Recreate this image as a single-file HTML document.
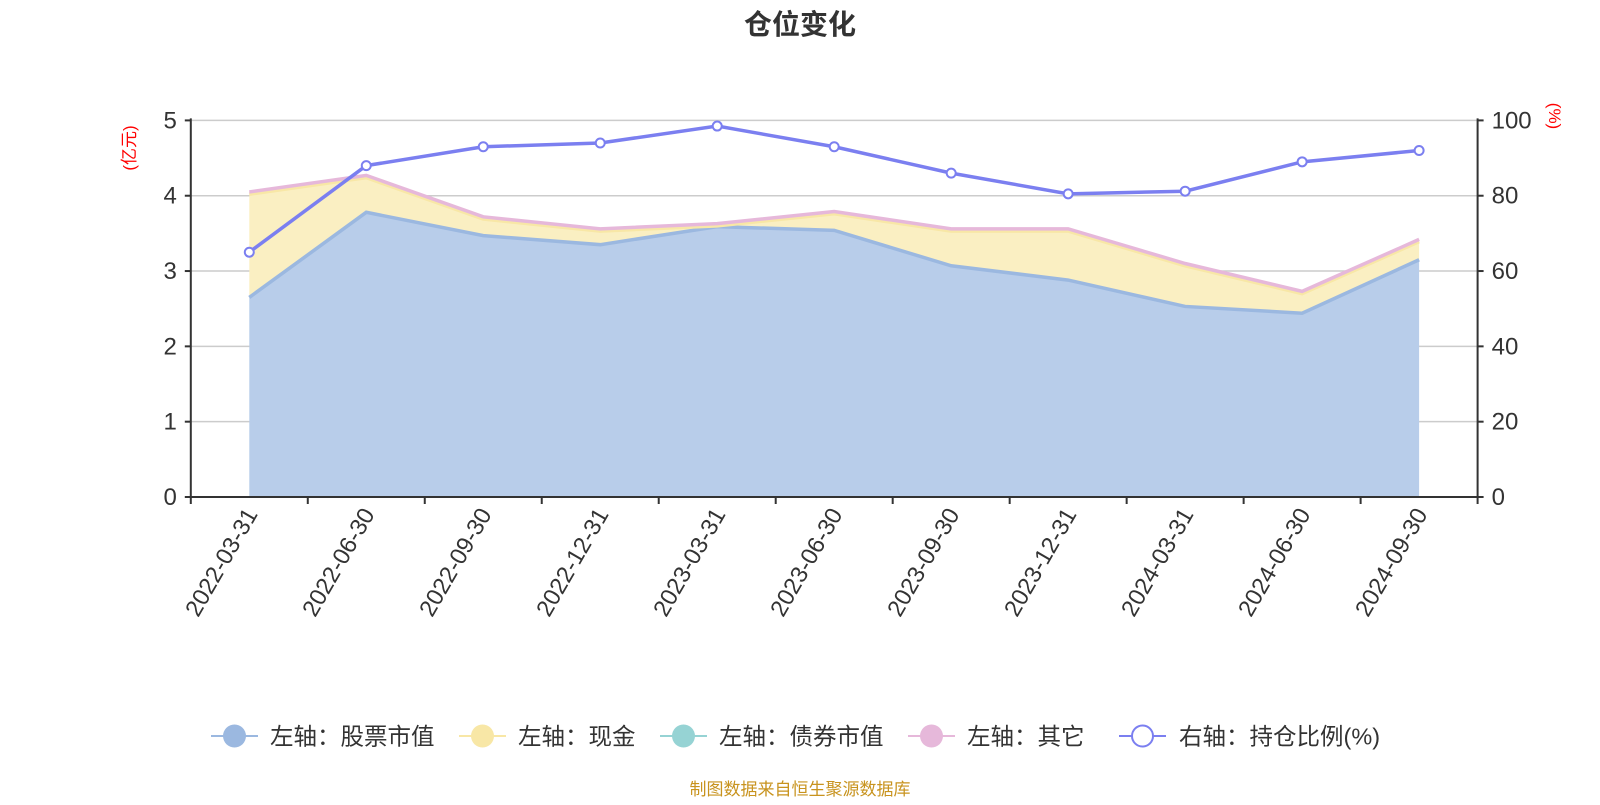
<!DOCTYPE html>
<html><head><meta charset="utf-8"><style>
body{margin:0;background:#fff;}
svg text{font-family:"Liberation Sans","Noto Sans CJK SC",sans-serif;}
</style></head><body>
<svg id="chart" width="1600" height="800" xmlns="http://www.w3.org/2000/svg">
<text x="800" y="34" text-anchor="middle" font-size="28" font-weight="bold" fill="#333">仓位变化</text>
<g id="grid"></g>
<g id="areas"></g>
<g id="axes"></g>
<g id="ratio"></g>
<text transform="translate(135,148) rotate(-90)" text-anchor="middle" font-size="17" fill="#ff0000">(亿元)</text>
<text transform="translate(1549,116) rotate(90)" text-anchor="middle" font-size="17" fill="#ff0000">(%)</text>
<g id="legend"></g>
<text x="800" y="795" text-anchor="middle" font-size="17" fill="#c8931e">制图数据来自恒生聚源数据库</text>
</svg>
<script>
const categories=["2022-03-31","2022-06-30","2022-09-30","2022-12-31","2023-03-31","2023-06-30","2023-09-30","2023-12-31","2024-03-31","2024-06-30","2024-09-30"];
const stockValues=[2.65,3.78,3.47,3.35,3.59,3.54,3.07,2.88,2.53,2.44,3.15];
const cashValues=[1.37,0.46,0.22,0.18,0.01,0.22,0.46,0.65,0.54,0.26,0.24];
const bondValues=[0,0,0,0,0,0,0,0,0,0,0];
const otherValues=[0.03,0.03,0.03,0.03,0.03,0.03,0.03,0.03,0.03,0.03,0.03];
const ratioValues=[65,88,93,94,98.5,93,86,80.5,81.2,89,92];
const leftTicks=[0,1,2,3,4,5];
const rightTicks=[0,20,40,60,80,100];
const NS="http://www.w3.org/2000/svg";
const X0=190.8,X1=1477.6,Y0=497,Y1=120.4;
const step=(X1-X0)/categories.length;
const xPos=i=>X0+step*(i+0.5);
const yL=v=>Y0-(v/5)*(Y0-Y1);
const yR=v=>Y0-(v/100)*(Y0-Y1);
function mk(tag,attrs,parent){const e=document.createElementNS(NS,tag);for(const k in attrs)e.setAttribute(k,attrs[k]);parent.appendChild(e);return e;}
const grid=document.getElementById('grid'),axes=document.getElementById('axes'),areas=document.getElementById('areas'),ratio=document.getElementById('ratio'),legend=document.getElementById('legend');
leftTicks.forEach((t,i)=>{
  if(t>0){const g=mk('line',{x1:X0,x2:X1,y1:yL(t),y2:yL(t),stroke:'#ccc','stroke-width':1.5},grid);
  
  }
  const tk=mk('line',{x1:X0-6,x2:X0,y1:yL(t),y2:yL(t),stroke:'#333','stroke-width':2},axes);
  
  
  const tx=mk('text',{x:X0-14,y:yL(t)+8,'text-anchor':'end','font-size':24,fill:'#333'},axes);tx.textContent=t;
  
  
});
rightTicks.forEach(t=>{
  const tk=mk('line',{x1:X1,x2:X1+6,y1:yR(t),y2:yR(t),stroke:'#333','stroke-width':2},axes);
  
  
  const tx=mk('text',{x:X1+14,y:yR(t)+8,'font-size':24,fill:'#333'},axes);tx.textContent=t;
  
  
});
const n=categories.length;
const s1=stockValues, s2=s1.map((v,i)=>v+cashValues[i]), s3=s2.map((v,i)=>v+bondValues[i]), s4=s3.map((v,i)=>v+otherValues[i]);
function areaPath(top,bot){let d='';for(let i=0;i<n;i++)d+=(i?'L':'M')+xPos(i)+','+yL(top[i]);for(let i=n-1;i>=0;i--)d+='L'+xPos(i)+','+yL(bot?bot[i]:0);return d+'Z';}
function linePath(arr,f){let d='';arr.forEach((v,i)=>d+=(i?'L':'M')+xPos(i)+','+f(v));return d;}
const a1=mk('path',{d:areaPath(s1,null),fill:'#b8cdea'},areas);


const a2=mk('path',{d:areaPath(s2,s1),fill:'#faefc2'},areas);


const a4=mk('path',{d:areaPath(s4,s3),fill:'#f2dbe8'},areas);


const l1=mk('path',{d:linePath(s1,yL),fill:'none',stroke:'#9bb8e0','stroke-width':3.5},areas);


const l2=mk('path',{d:linePath(s2,yL),fill:'none',stroke:'#f8e7a6','stroke-width':3.5},areas);


const l4=mk('path',{d:linePath(s4,yL),fill:'none',stroke:'#e6b8da','stroke-width':3.5},areas);


const la=mk('line',{x1:X0,x2:X0,y1:Y1-2,y2:Y0+1,stroke:'#333','stroke-width':2},axes);


const ra=mk('line',{x1:X1,x2:X1,y1:Y1-2,y2:Y0+1,stroke:'#333','stroke-width':2},axes);


const xa=mk('line',{x1:X0,x2:X1,y1:Y0,y2:Y0,stroke:'#333','stroke-width':2},axes);


for(let i=0;i<=n;i++){const t=mk('line',{x1:X0+step*i,x2:X0+step*i,y1:Y0,y2:Y0+7,stroke:'#333','stroke-width':2},axes);

}
categories.forEach((c,i)=>{
  const tx=mk('text',{transform:`translate(${xPos(i)+9},${Y0+17}) rotate(-60)`,'text-anchor':'end','font-size':23.5,fill:'#333'},axes);tx.textContent=c;
  
  
});
const rl=mk('path',{d:linePath(ratioValues,yR),fill:'none',stroke:'#7b7ff0','stroke-width':3.5},ratio);


ratioValues.forEach((v,i)=>{const c=mk('circle',{cx:xPos(i),cy:yR(v),r:4.5,fill:'#fff',stroke:'#7b7ff0','stroke-width':2},ratio);

});
const items=[["左轴：股票市值","#9bb8e0",211,270,'legend-stock'],["左轴：现金","#f8e7a6",459,518,'legend-cash'],["左轴：债券市值","#96d3d4",660,719,'legend-bond'],["左轴：其它","#e6b8da",908,967,'legend-other'],["右轴：持仓比例(%)","#7b7ff0",1119,1179,'legend-ratio']];
items.forEach((it,k)=>{
  const g=mk('g',{},legend);
  
  
  mk('line',{x1:it[2],x2:it[2]+47,y1:736,y2:736,stroke:it[1],'stroke-width':2},g);
  if(k===4)mk('circle',{cx:it[2]+23.5,cy:736,r:10.5,fill:'#fff',stroke:it[1],'stroke-width':2},g);
  else mk('circle',{cx:it[2]+23.5,cy:736,r:11.5,fill:it[1]},g);
  const t=mk('text',{x:it[3],y:744.5,'font-size':23.5,fill:'#333'},g);t.textContent=it[0];
});
</script>
</body></html>
